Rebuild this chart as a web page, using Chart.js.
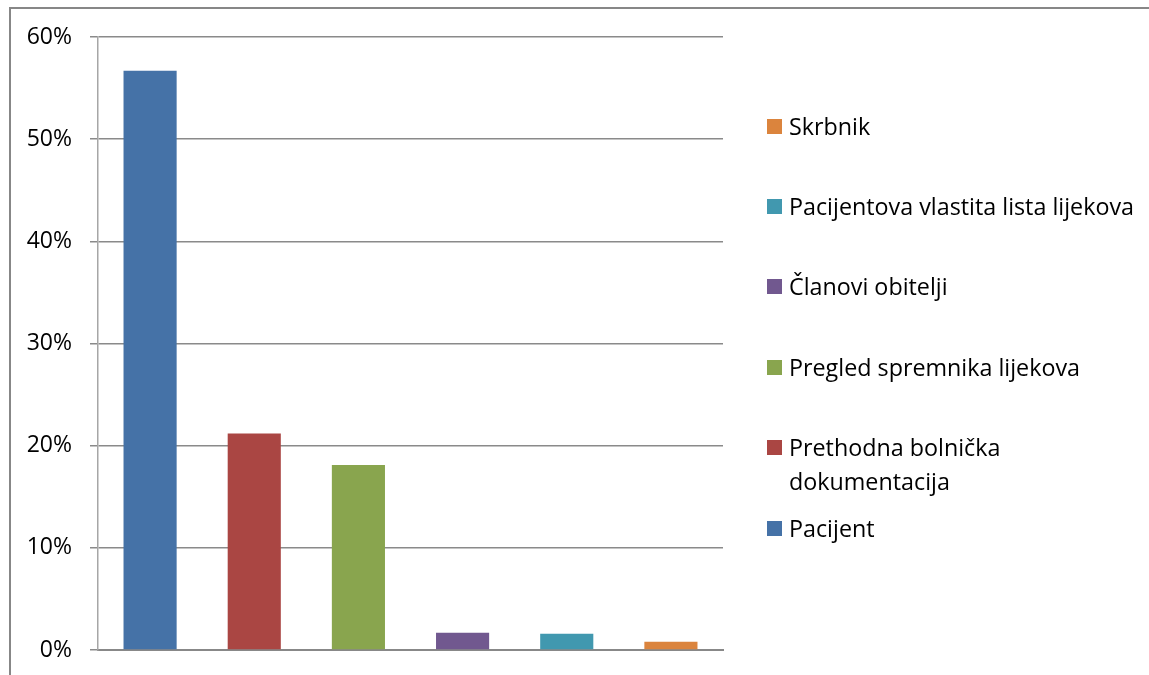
<!DOCTYPE html>
<html>
<head>
<meta charset="utf-8">
<script src="https://cdn.jsdelivr.net/npm/chart.js@4/dist/chart.umd.min.js"></script>
<style>
    body { margin: 0; background: #fff; }
    #wrap { position: relative; width: 1149px; height: 675px; overflow: hidden; font-family: 'Open Sans', sans-serif; }
    #frame { position: absolute; left: 9px; top: 7px; width: 1160px; height: 700px; border-left: 2px solid #878787; border-top: 2px solid #878787; }
    #eveChart { position: absolute; left: 0; top: 0; }
    .legend-item { position: absolute; left: 767px; width: 378px; font-size: 23.3px; line-height: 34px; color: #000; }
    .legend-item .box { position: absolute; left: 0; top: 10px; width: 15px; height: 15px; }
    .legend-item .txt { margin-left: 22px; display: block; }
</style>
</head>
<body>
<div id="wrap">
    <div id="frame"></div>
    <canvas id="eveChart" width="1149" height="675"></canvas>
</div>
<script>
// Chart data
const categories = ['Pacijent', 'Prethodna bolnička dokumentacija', 'Pregled spremnika lijekova', 'Članovi obitelji', 'Pacijentova vlastita lista lijekova', 'Skrbnik'];
const values = [56.7, 21.2, 18.1, 1.7, 1.6, 0.8];
const colors = ['#4572A7', '#AA4643', '#89A54E', '#71588F', '#4198AF', '#DB843D'];
const yTicks = [0, 10, 20, 30, 40, 50, 60];

// legend rows, top to bottom (reverse of series order)
const legendTops = [109, 189, 269, 350, 430, 511];

document.addEventListener('DOMContentLoaded', function() {
    displayChart();
    buildLegend();
});

function displayChart() {
    const ctx = document.getElementById('eveChart').getContext('2d');
    new Chart(ctx, {
        type: 'bar',
        data: {
            labels: categories,
            datasets: [{
                label: 'Udio',
                data: values,
                backgroundColor: colors,
                borderWidth: 0,
                categoryPercentage: 1,
                barPercentage: 0.51
            }]
        },
        options: {
            responsive: false,
            animation: false,
            layout: { padding: { left: 0, top: 37, right: 426, bottom: 25 } },
            plugins: { legend: { display: false }, tooltip: { enabled: false } },
            scales: {
                x: {
                    grid: { display: false },
                    ticks: { display: false },
                    border: { display: true, color: '#888888', width: 2 },
                    afterFit: function(scale) { scale.height = 0; }
                },
                y: {
                    min: 0,
                    max: yTicks[yTicks.length - 1],
                    afterBuildTicks: function(scale) {
                        scale.ticks = yTicks.map(v => ({ value: v }));
                    },
                    afterFit: function(scale) {
                        scale.width = 98;
                        scale.paddingTop = 0;
                        scale.paddingBottom = 0;
                    },
                    ticks: {
                        color: '#000',
                        padding: 18,
                        font: { family: 'Open Sans', size: 23 },
                        callback: v => v + '%'
                    },
                    grid: { color: '#8a8a8a', lineWidth: 1.5, tickLength: 8 },
                    border: { display: true, color: '#a6a6a6', width: 1.5 }
                }
            }
        }
    });
}

function buildLegend() {
    const wrap = document.getElementById('wrap');
    const order = categories.map((c, i) => i).reverse();
    order.forEach((idx, row) => {
        const item = document.createElement('div');
        item.className = 'legend-item';
        item.style.top = legendTops[row] + 'px';
        item.innerHTML = `<span class="box" style="background:${colors[idx]}"></span><span class="txt">${categories[idx]}</span>`;
        wrap.appendChild(item);
    });
}
</script>
</body>
</html>
